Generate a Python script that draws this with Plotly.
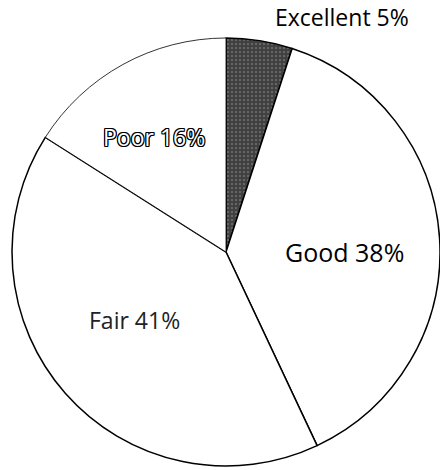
import plotly.graph_objects as go

categories = ["Excellent", "Good", "Fair", "Poor"]
percents = [5, 38, 41, 16]

W, H = 440, 470

fig = go.Figure()
fig.add_trace(go.Pie(
    labels=categories,
    values=percents,
    sort=False,
    direction="clockwise",
    rotation=0,
    textinfo="none",
    hoverinfo="label+percent",
    showlegend=False,
    domain=dict(x=[12 / W, 1.0], y=[4 / H, 432 / H]),
    marker=dict(
        colors=["#444444", "white", "white", "white"],
        line=dict(color="black", width=[1.5, 1.5, 1.5, 0.8]),
        pattern=dict(shape=[".", "", "", ""], fgcolor="black", bgcolor="#808080",
                     size=4, solidity=0.8, fillmode="overlay"),
    ),
))

font_family = "Open Sans"
labels = [f"{c} {p}%" for c, p in zip(categories, percents)]

def add_label(text, cx, cy, size, color="black", shadow=None):
    f = dict(family=font_family, size=size, color=color)
    if shadow:
        f["shadow"] = shadow
    fig.add_annotation(x=cx / W, y=1 - cy / H, xref="paper", yref="paper",
                       xanchor="center", yanchor="middle",
                       text=text, showarrow=False, font=f)

add_label(labels[0], 342, 17, 23)
add_label(labels[1], 344, 252, 25)
add_label(labels[2], 134, 320, 23, color="#222")
add_label(labels[3], 154, 137, 23, color="white",
          shadow="1px 1px 0 #000, -1px -1px 0 #000, 1px -1px 0 #000, -1px 1px 0 #000, "
                 "0 1px 0 #000, 0 -1px 0 #000, 1px 0 0 #000, -1px 0 0 #000")

fig.update_layout(
    width=W, height=H,
    margin=dict(l=0, r=0, t=0, b=0),
    paper_bgcolor="white",
    plot_bgcolor="white",
)

fig.write_html("out.html",
               config={"displayModeBar": False},
               post_script="document.body.style.margin='0';document.body.style.overflow='hidden';")
